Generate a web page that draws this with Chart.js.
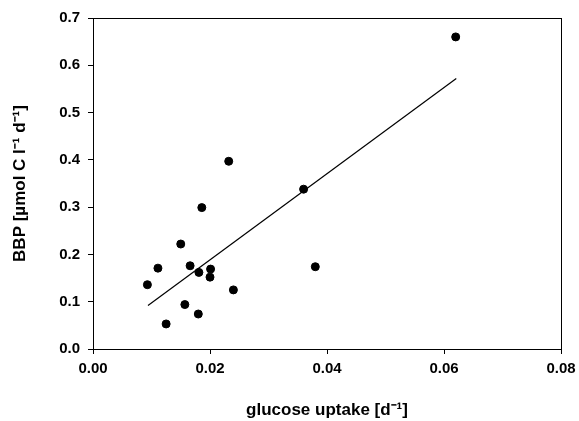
<!DOCTYPE html>
<html>
<head>
<meta charset="utf-8">
<script src="https://cdn.jsdelivr.net/npm/chart.js@4"></script>
<style>
  html, body { margin: 0; padding: 0; background: #fff; }
  #wrap { width: 579px; height: 421px; }
</style>
</head>
<body>
<div id="wrap"><canvas id="myChart"></canvas></div>
<script>
// measured points (glucose uptake vs BBP)
const glucoseUptake = [0.0620, 0.0232, 0.0360, 0.0186, 0.0150, 0.0111, 0.0166, 0.0181, 0.0201, 0.0200, 0.0380, 0.0093, 0.0240, 0.0157, 0.0180, 0.0125];
const bbp = [0.660, 0.397, 0.338, 0.299, 0.222, 0.171, 0.176, 0.162, 0.169, 0.152, 0.174, 0.136, 0.125, 0.094, 0.074, 0.053];

// regression line end points
const fitX = [0.0094, 0.0621];
const fitY = [0.092, 0.572];

const xTitle = 'glucose uptake [d\u207B\u00B9]';
const yTitle = 'BBP [\u00B5mol C l\u207B\u00B9 d\u207B\u00B9]';

Chart.defaults.font.family = '"Liberation Sans", Arial, sans-serif';
Chart.defaults.color = '#000';

// draws the box round the plot area
const frameBox = {
    id: 'frameBox',
    afterDraw(chart) {
        const { ctx, chartArea } = chart;
        ctx.save();
        ctx.strokeStyle = '#000';
        ctx.lineWidth = 1;
        ctx.strokeRect(Math.round(chartArea.left) + 0.5, Math.round(chartArea.top) + 0.5,
            Math.round(chartArea.right - chartArea.left), Math.round(chartArea.bottom - chartArea.top));
        ctx.restore();
    }
};

const ctx = document.getElementById('myChart').getContext('2d');
const myChart = new Chart(ctx, {
    type: 'scatter',
    data: {
        datasets: [
            {
                data: glucoseUptake.map((x, i) => ({ x: x, y: bbp[i] })),
                backgroundColor: '#000',
                borderColor: '#000',
                pointRadius: 4,
                pointHoverRadius: 4
            },
            {
                type: 'line',
                data: fitX.map((x, i) => ({ x: x, y: fitY[i] })),
                borderColor: '#000',
                borderWidth: 1.2,
                pointRadius: 0,
                fill: false
            }
        ]
    },
    options: {
        responsive: true,
        maintainAspectRatio: false,
        animation: false,
        layout: { padding: { left: 0, right: 18, top: 18, bottom: 0 } },
        plugins: { legend: { display: false }, tooltip: { enabled: false } },
        scales: {
            x: {
                type: 'linear',
                min: 0,
                max: 0.08,
                ticks: {
                    stepSize: 0.02,
                    padding: 6,
                    font: { size: 15, weight: 'bold' },
                    callback: v => v.toFixed(2)
                },
                grid: { drawOnChartArea: false, tickLength: 5, color: '#000' },
                border: { color: '#000' },
                title: {
                    display: true,
                    text: xTitle,
                    font: { size: 17, weight: 'bold' },
                    padding: { top: 12, bottom: 0 }
                },
                afterFit: scale => {
                    scale.height = 72;
                    scale.paddingLeft = 0;
                    scale.paddingRight = 0;
                }
            },
            y: {
                min: 0,
                max: 0.7,
                ticks: {
                    stepSize: 0.1,
                    padding: 8,
                    font: { size: 15, weight: 'bold' },
                    callback: v => v.toFixed(1)
                },
                grid: { drawOnChartArea: false, tickLength: 5, color: '#000' },
                border: { color: '#000' },
                title: {
                    display: true,
                    text: yTitle,
                    font: { size: 17, weight: 'bold' },
                    padding: { top: 10, bottom: 0 }
                },
                afterFit: scale => {
                    scale.width = 93;
                    scale.paddingTop = 0;
                    scale.paddingBottom = 0;
                }
            }
        }
    },
    plugins: [frameBox]
});
</script>
</body>
</html>
